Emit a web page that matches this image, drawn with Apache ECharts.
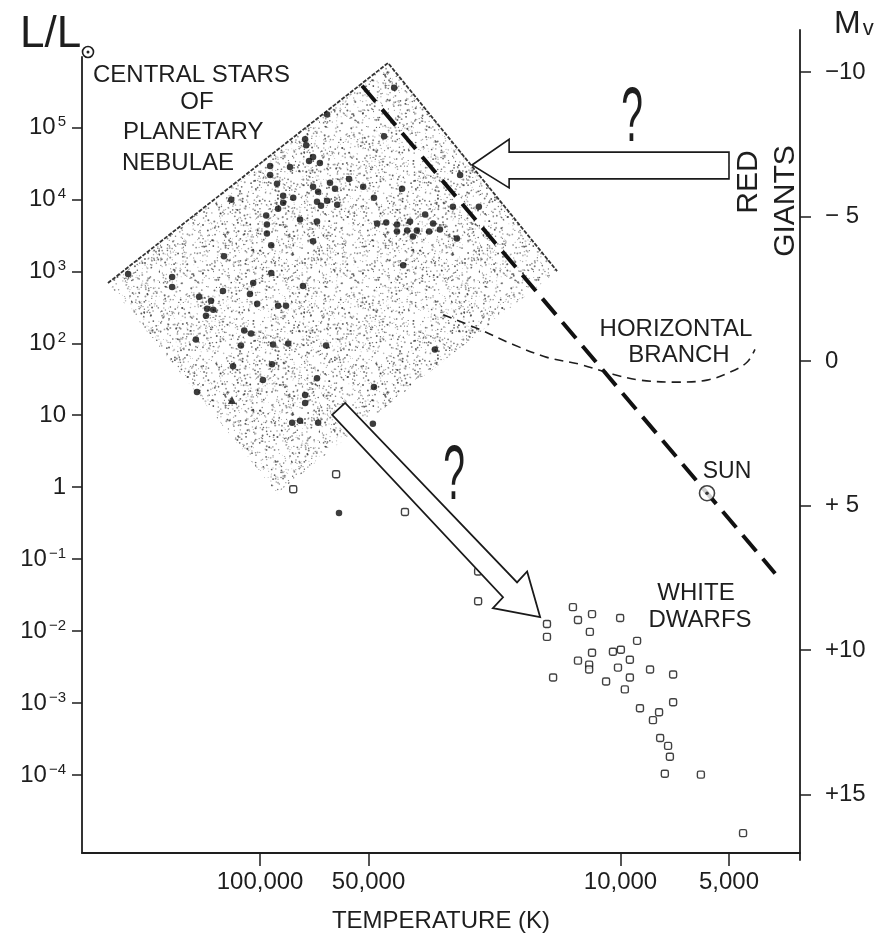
<!DOCTYPE html>
<html><head><meta charset="utf-8">
<script src="https://cdn.jsdelivr.net/npm/echarts@6/dist/echarts.min.js"></script>
<style>html,body{margin:0;padding:0;background:#fff}#c{width:881px;height:938px}</style>
</head><body><div id="c"></div>
<script>
// ---- Data (log10 T_eff [K], log10 L/Lsun) ----
const pnLogT = [4.628,4.814,4.875,4.872,4.864,4.853,4.834,4.656,4.917,4.972,4.972,4.953,4.853,4.839,4.806,4.792,4.753,4.714,4.684,4.606,
  4.445,4.936,4.908,4.936,4.950,4.842,4.831,4.814,4.786,4.465,4.393,4.542,5.080,4.983,4.981,4.981,4.889,4.842,4.675,4.650,
  4.620,4.620,4.584,4.592,4.565,4.576,4.520,4.531,4.501,4.454,4.853,4.969,5.100,4.603,4.969,5.366,5.244,5.244,5.019,4.881,
  5.169,5.103,5.028,5.136,5.147,5.130,5.150,5.008,4.950,4.928,5.044,5.025,5.178,5.053,4.964,4.922,4.817,4.515,5.075,4.967,
  4.992,4.842,4.684,5.175,4.875,4.875,4.911,4.889,4.839,4.742,4.687,4.781];
const pnLogL = [5.551,5.179,4.835,4.752,4.532,4.587,4.504,4.876,4.449,4.463,4.339,4.215,4.174,4.105,4.229,4.146,4.284,4.174,4.022,4.146,
  4.339,4.050,4.022,3.953,3.871,3.967,3.912,3.981,3.926,3.898,3.898,3.788,3.995,3.774,3.650,3.526,3.719,3.692,3.664,3.678,
  3.650,3.554,3.692,3.568,3.568,3.485,3.664,3.554,3.581,3.457,3.416,3.361,3.209,3.085,2.975,2.962,2.920,2.782,2.838,2.796,
  2.645,2.727,2.686,2.590,2.479,2.466,2.383,2.548,2.521,2.521,2.176,2.135,2.052,1.970,1.984,1.997,1.970,1.915,1.681,1.708,
  1.488,1.515,1.391,1.322,1.281,1.171,0.895,0.923,0.895,0.923,0.882,-0.358];
const pnTriLogT = [5.078];
const pnTriLogL = [1.212];

const wdLogT = [4.789,4.908,4.598,4.429,4.395,4.395,4.204,4.204,4.187,4.132,4.079,4.118,4.085,4.079,4.118,4.087,4.087,4.001,3.954,4.021,
  3.999,3.974,4.007,3.918,3.854,4.040,3.974,3.988,3.854,3.946,3.893,3.910,3.890,3.868,3.863,3.877,3.777,3.660];
const wdLogL = [0.179,-0.028,-0.344,-0.785,-1.171,-1.584,-1.901,-2.080,-2.645,-1.667,-1.763,-1.846,-2.011,-2.300,-2.410,-2.466,-2.534,-1.818,-2.135,-2.286,
  -2.259,-2.397,-2.507,-2.534,-2.603,-2.700,-2.645,-2.810,-2.989,-3.072,-3.127,-3.237,-3.485,-3.595,-3.746,-3.981,-3.994,-4.807];

const mainSeqLogT = [4.717, 3.571];
const mainSeqLogL = [5.579, -1.198];
const hbLogT = [4.492,4.390,4.298,4.204,4.113,4.021,3.946,3.843,3.760,3.696,3.649,3.627];
const hbLogL = [2.397,2.190,1.983,1.804,1.708,1.570,1.488,1.460,1.488,1.598,1.736,1.915];
const sunLogT = [3.760];
const sunLogL = [-0.083];

// stippled region of planetary-nebula nuclei (left, top, right, bottom corners)
const regionLogT = [5.422, 4.645, 4.176, 4.953];
const regionLogL = [2.837, 5.895, 3.003, -0.083];
// evolutionary arrows
const arrowGiantsT = [4.412, 4.309, 4.309, 3.699, 3.699, 4.309, 4.309];
const arrowGiantsL = [4.477, 4.835, 4.656, 4.656, 4.284, 4.284, 4.160];
const arrowDwarfT = [4.800, 4.764, 4.287, 4.259, 4.223, 4.354, 4.326];
const arrowDwarfL = [1.006, 1.171, -1.322, -1.171, -1.804, -1.680, -1.529];

// axis ticks
const tempTicks = [100000, 50000, 10000, 5000];
const lumExps = [-4,-3,-2,-1,0,1,2,3,4,5];
const mvTicks = [-10,-5,0,5,10,15];

// ---- Chart ----
const FONT = "'Liberation Sans', Arial, sans-serif";
const INK = '#1e1e1e';

function makeStipple(){
  const n = 160, c = document.createElement('canvas');
  c.width = c.height = n;
  const g = c.getContext('2d');
  let s = 987654321;
  const h = () => { s = (Math.imul(s, 1664525) + 1013904223) >>> 0; return s / 4294967296; };
  for (let i = 0; i < 2100; i++) {
    const x = h()*n, y = h()*n, r = 0.4 + h()*0.65;
    g.fillStyle = 'rgba(40,40,40,' + (0.28 + h()*0.5).toFixed(2) + ')';
    g.beginPath(); g.arc(x, y, r, 0, Math.PI*2); g.fill();
  }
  return c;
}
const stipple = makeStipple();

const pair = (a, b) => a.map((v, i) => [v, b[i]]);

const chart = echarts.init(document.getElementById('c'), null, {renderer:'canvas'});
const X_MIN = 3.502, X_MAX = 5.494, YL_MIN = -5.083, YL_MAX = 5.978, MV_MIN = -11.45, MV_MAX = 17.27;

function polyRenderer(ts, ls, style){
  return function(params, api){
    const pts = ts.map((t, i) => api.coord([t, ls[i]]));
    return {type:'polygon', shape:{points:pts}, style:style};
  };
}

const option = {
  animation:false,
  backgroundColor:'#fff',
  grid:[{left:82,right:81,top:57,bottom:78},{left:82,right:81,top:30,bottom:78}],
  xAxis:[{
    type:'value', gridIndex:0, inverse:true, min:X_MIN, max:X_MAX,
    name:'TEMPERATURE (K)', nameLocation:'middle', nameGap:56,
    nameTextStyle:{fontSize:24, fontFamily:FONT, color:INK},
    axisLine:{show:true, onZero:false, lineStyle:{color:INK, width:1.8}},
    axisTick:{show:true, length:13, customValues:tempTicks.map(Math.log10), lineStyle:{color:INK, width:1.5}},
    axisLabel:{show:true, customValues:tempTicks.map(Math.log10), margin:17, fontSize:24, fontFamily:FONT, color:INK,
      formatter:v => Math.round(Math.pow(10, v)).toLocaleString('en-US')},
    splitLine:{show:false}
  },{
    type:'value', gridIndex:1, inverse:true, min:X_MIN, max:X_MAX, show:false
  }],
  yAxis:[{
    type:'value', gridIndex:0, position:'left', min:YL_MIN, max:YL_MAX,
    axisLine:{show:true, onZero:false, lineStyle:{color:INK, width:1.8}},
    axisTick:{show:true, length:10, customValues:lumExps, lineStyle:{color:INK, width:1.5}},
    axisLabel:{show:true, customValues:lumExps, margin:16, color:INK, fontFamily:FONT,
      formatter:v => {
        v = Math.round(v);
        if (v === 0) return '{b|1}';
        if (v === 1) return '{b|10}';
        return '{b|10}{s|' + (v < 0 ? '−' + (-v) : v) + '}';
      },
      rich:{ b:{fontSize:24, lineHeight:26, fontFamily:FONT, color:INK},
             s:{fontSize:15, lineHeight:14, verticalAlign:'top', fontFamily:FONT, color:INK, padding:[0,0,0,2]} }
    },
    splitLine:{show:false}
  },{
    type:'value', gridIndex:1, position:'right', inverse:true, min:MV_MIN, max:MV_MAX,
    axisLine:{show:true, onZero:false, lineStyle:{color:INK, width:1.8}},
    axisTick:{show:true, length:11, customValues:mvTicks, lineStyle:{color:INK, width:1.5}},
    axisLabel:{show:true, customValues:mvTicks, margin:25, fontSize:24, fontFamily:FONT, color:INK,
      formatter:v => { v = Math.round(v); if (v === 0) return '0'; const a = Math.abs(v); return (v < 0 ? '−' : '+') + (a < 10 ? ' ' : '') + a; }},
    splitLine:{show:false}
  }],
  series:[
    { // stippled region
      type:'custom', xAxisIndex:0, yAxisIndex:0, z:1, silent:true,
      data:[[regionLogT[0], regionLogL[0]]],
      renderItem:function(params, api){
        const pts = regionLogT.map((t, i) => api.coord([t, regionLogL[i]]));
        return {type:'group', children:[
          {type:'polygon', shape:{points:pts}, style:{fill:{image:stipple, repeat:'repeat'}, stroke:null}},
          {type:'polyline', shape:{points:[pts[0], pts[1], pts[2]]}, style:{fill:null, stroke:'#333', lineWidth:1.8, lineDash:[4,1.5]}}
        ]};
      }
    },
    { // horizontal branch
      type:'line', xAxisIndex:0, yAxisIndex:0, z:2, symbol:'none', smooth:0.35, silent:true,
      data:pair(hbLogT, hbLogL),
      lineStyle:{color:INK, width:1.6, type:[9,6]}
    },
    { // main sequence
      type:'line', xAxisIndex:0, yAxisIndex:0, z:3, symbol:'none', silent:true,
      data:pair(mainSeqLogT, mainSeqLogL),
      lineStyle:{color:'#111', width:4, type:[21,10], cap:'butt'}
    },
    { // central stars of planetary nebulae
      type:'scatter', xAxisIndex:0, yAxisIndex:0, z:4, symbol:'circle', symbolSize:6.5,
      data:pair(pnLogT, pnLogL), itemStyle:{color:'#0d0d0d'}
    },
    {
      type:'scatter', xAxisIndex:0, yAxisIndex:0, z:4, symbol:'triangle', symbolSize:8,
      data:pair(pnTriLogT, pnTriLogL), itemStyle:{color:'#0d0d0d'}
    },
    { // white dwarfs
      type:'scatter', xAxisIndex:0, yAxisIndex:0, z:4, symbol:'roundRect', symbolSize:7,
      data:pair(wdLogT, wdLogL), itemStyle:{color:'#fff', borderColor:'#111', borderWidth:1.4}
    },
    { // arrows
      type:'custom', xAxisIndex:0, yAxisIndex:0, z:5, silent:true,
      data:[[arrowGiantsT[0], arrowGiantsL[0]]],
      renderItem:polyRenderer(arrowGiantsT, arrowGiantsL, {fill:'#fff', stroke:'#1a1a1a', lineWidth:1.6, lineJoin:'miter'})
    },
    {
      type:'custom', xAxisIndex:0, yAxisIndex:0, z:5, silent:true,
      data:[[arrowDwarfT[0], arrowDwarfL[0]]],
      renderItem:polyRenderer(arrowDwarfT, arrowDwarfL, {fill:'#fff', stroke:'#1a1a1a', lineWidth:1.8, lineJoin:'miter'})
    },
    { // the Sun
      type:'scatter', xAxisIndex:0, yAxisIndex:0, z:6, symbol:'circle', symbolSize:15,
      data:pair(sunLogT, sunLogL), itemStyle:{color:'#fff', borderColor:'#111', borderWidth:1.6}
    },
    {
      type:'scatter', xAxisIndex:0, yAxisIndex:0, z:7, symbol:'circle', symbolSize:3.5,
      data:pair(sunLogT, sunLogL), itemStyle:{color:'#111'}
    }
  ],
  graphic:[
    {type:'text', x:20, y:57, style:{text:'L/L', fontSize:44, fontFamily:FONT, fill:INK, verticalAlign:'bottom'}},
    {type:'circle', shape:{cx:88, cy:52, r:5.5}, style:{fill:'#fff', stroke:INK, lineWidth:1.6}, z:10},
    {type:'circle', shape:{cx:88, cy:52, r:1.5}, style:{fill:INK}, z:11},
    {type:'text', x:834, y:8, style:{text:'M{v|v}', fontSize:32, fontFamily:FONT, fill:INK,
      rich:{v:{fontSize:22, fontFamily:FONT, fill:INK, verticalAlign:'bottom', lineHeight:20, padding:[0,0,0,2]}}}},
    {type:'text', x:93, y:75, style:{text:'CENTRAL STARS', fontSize:24, fontFamily:FONT, fill:INK, verticalAlign:'middle'}},
    {type:'text', x:197, y:102, style:{text:'OF', fontSize:24, fontFamily:FONT, fill:INK, align:'center', verticalAlign:'middle'}},
    {type:'text', x:123, y:132, style:{text:'PLANETARY', fontSize:24, fontFamily:FONT, fill:INK, verticalAlign:'middle'}},
    {type:'text', x:122, y:163, style:{text:'NEBULAE', fontSize:24, fontFamily:FONT, fill:INK, verticalAlign:'middle'}},
    {type:'text', x:749, y:182, rotation:Math.PI/2, style:{text:'RED', fontSize:30, fontFamily:FONT, fill:INK, align:'center', verticalAlign:'middle'}},
    {type:'text', x:786, y:201, rotation:Math.PI/2, style:{text:'GIANTS', fontSize:30, fontFamily:FONT, fill:INK, align:'center', verticalAlign:'middle'}},
    {type:'text', x:676, y:329, style:{text:'HORIZONTAL', fontSize:24, fontFamily:FONT, fill:INK, align:'center', verticalAlign:'middle'}},
    {type:'text', x:679, y:355, style:{text:'BRANCH', fontSize:24, fontFamily:FONT, fill:INK, align:'center', verticalAlign:'middle'}},
    {type:'text', x:727, y:472, style:{text:'SUN', fontSize:23, fontFamily:FONT, fill:INK, align:'center', verticalAlign:'middle'}},
    {type:'text', x:696, y:593, style:{text:'WHITE', fontSize:24, fontFamily:FONT, fill:INK, align:'center', verticalAlign:'middle'}},
    {type:'text', x:700, y:620, style:{text:'DWARFS', fontSize:24, fontFamily:FONT, fill:INK, align:'center', verticalAlign:'middle'}},
    {type:'text', x:632, y:119, scaleX:0.5, style:{text:'?', fontSize:78, fontFamily:FONT, fill:INK, align:'center', verticalAlign:'middle'}},
    {type:'text', x:454, y:477, scaleX:0.5, style:{text:'?', fontSize:78, fontFamily:FONT, fill:INK, align:'center', verticalAlign:'middle'}}
  ]
};
chart.setOption(option);
</script>
</body></html>
